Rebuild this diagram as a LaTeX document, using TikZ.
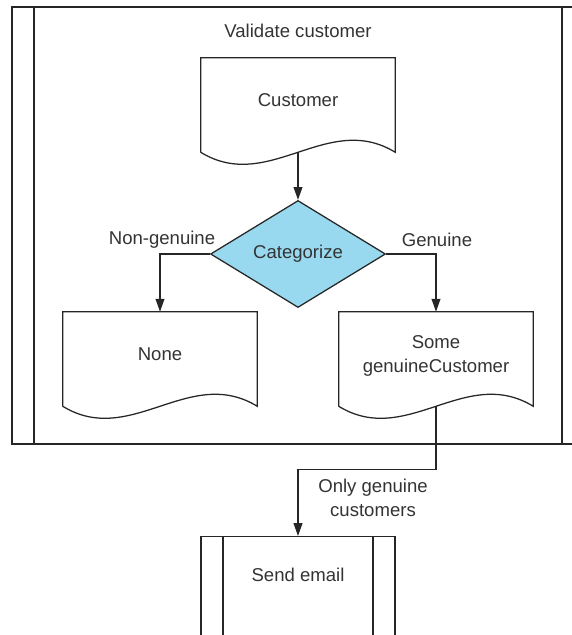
\documentclass[tikz,border=0pt]{standalone}
\usepackage{fontspec}
\setmainfont{Liberation Sans}
\usepackage{xcolor}
\usepackage{tikz}
\usetikzlibrary{arrows.meta, positioning, shapes.geometric}

\definecolor{birumuda}{RGB}{153,217,240}
\definecolor{teks}{RGB}{51,51,51}

% outline of a document shape around a node
\newcommand{\dokgaris}[1]{%
  \draw[garis] (#1.south west) -- (#1.north west) -- (#1.north east) -- (#1.south east)
    .. controls +(-1.7,1.04) and +(1.7,-1.04) .. (#1.south west);}

\begin{document}
\begin{tikzpicture}[
    font=\fontsize{13.2}{17}\selectfont, text=teks,
    garis/.style={draw=black!85, line width=0.9pt},
    dokumen/.style={minimum width=4.85cm, minimum height=2.35cm, align=center,
                    text depth=0.25cm, inner sep=0pt},
    proses/.style={garis, minimum width=4.85cm, inner sep=0pt,
      path picture={
        \draw[garis] ([xshift=0.55cm]path picture bounding box.north west)
                  -- ([xshift=0.55cm]path picture bounding box.south west);
        \draw[garis] ([xshift=-0.55cm]path picture bounding box.north east)
                  -- ([xshift=-0.55cm]path picture bounding box.south east);}},
    keputusan/.style={diamond, garis, fill=birumuda, minimum width=4.375cm,
                      minimum height=2.575cm, inner sep=0pt},
    panah/.style={garis, -{Triangle[length=3.2mm, width=2.2mm]}}
  ]
    \clip (0,0) rectangle (14.3,-15.875);

    \node[proses, minimum width=14.3cm, minimum height=10.925cm] (validasi) at (7.45,-5.6375) {};
    \node (judulvalidasi) at (7.45,-0.775) {Validate customer};

    \node[dokumen] (cust) at (7.45,-2.625) {Customer};
    \node[keputusan] (kat) at (7.45,-6.35) {Categorize};
    \node[dokumen] (none) at (4.0,-8.975) {None};
    \node[dokumen] (some) at (10.9,-8.975) {Some\\genuineCustomer};
    \dokgaris{cust}
    \dokgaris{none}
    \dokgaris{some}

    \node[proses, minimum height=3cm, anchor=north] (email) at (7.45,-13.4) {};
    \node (judulemail) at (7.45,-14.375) {Send email};

    \draw[panah] (cust.south) -- (kat.north);
    \draw[panah] (kat.west) -| (none.north);
    \draw[panah] (kat.east) -| (some.north);
    \draw[panah] (some.south) -- ++(0,-1.575) -| (email.north);
    \node (lnon) at (4.05,-6.0) {Non-genuine};
    \node (lgen) at (10.925,-6.0) {Genuine};
    \node[align=center] (lonly) at (9.325,-12.45) {Only genuine\\customers};
  \end{tikzpicture}
\end{document}
